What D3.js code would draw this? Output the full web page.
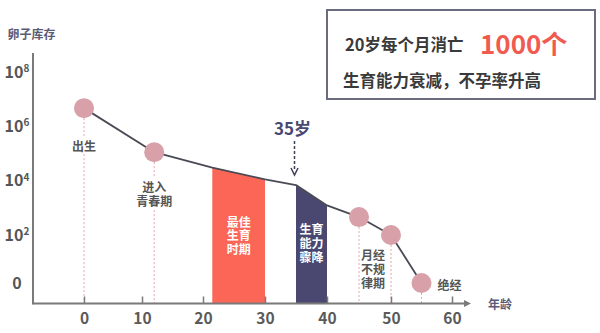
<!DOCTYPE html>
<html><head><meta charset="utf-8">
<script src="https://cdn.jsdelivr.net/npm/d3@7"></script>
<style>
body{margin:0;background:#fff}
svg{display:block}
text{font-family:"Noto Sans CJK SC","Noto Sans",sans-serif;font-weight:700}
</style>
</head><body>
<svg id="c" width="600" height="333"></svg>
<script>
// ---- data ----
const xTicks = [0, 10, 20, 30, 40, 50, 60];
const yTickExps = [8, 6, 4, 2, 0];           // 0 shown as "0"
const curveAges = [0, 12, 21.5, 30, 35, 40, 45, 50, 55];
const curveLogs = [6.67, 5.05, 4.48, 4.05, 3.84, 3.09, 2.66, 2.0, 0];
const milestoneAges = [0, 12, 45, 50, 55];
const barStart = [21.5, 35];
const barEnd = [30, 40];
const barLabels = [["最佳", "生育", "时期"], ["生育", "能力", "骤降"]];
const markerAge = 35;
const markerText = "35岁";
const boxLine1 = "20岁每个月消亡";
const boxHighlight = "1000个";
const boxLine2 = "生育能力衰减，不孕率升高";
const yTitle = "卵子库存";
const xTitle = "年龄";

// ---- layout ----
const svg = d3.select("#c");
const x = d3.scaleLinear().domain(xTicks).range([84, 142, 203, 265, 327, 391, 452]);
const y = d3.scaleLinear().domain([0, 2, 8]).range([283, 235, 72]);
const baseY = 303.5, axisLeft = 33, axisTop = 53, axisRight = 471;
const axisColor = "#7a7a7a";
const pts = curveAges.map((a, i) => [a, curveLogs[i]]);
const valAt = a => curveLogs[curveAges.indexOf(a)];

// multi-line text as one element
function multi(lines, cx, cy0, lh, opts) {
  const t = svg.append("text").attr("text-anchor", opts.anchor || "middle")
    .attr("font-size", opts.size || 12).attr("fill", opts.fill || "#555");
  lines.forEach((s, j) => {
    t.append("tspan").attr("x", cx).attr("y", cy0 + j * lh).attr("dominant-baseline", "central").text(s);
  });
  return t;
}

// clip path: area under curve
const area = d3.area().x(d => x(d[0])).y0(baseY).y1(d => y(d[1]));
svg.append("defs").append("clipPath").attr("id", "under")
  .append("path").attr("d", area(pts));

// bars
const barColors = ["#fb6656", "#4a4870"];
const barG = svg.append("g").attr("clip-path", "url(#under)");
barStart.forEach((s, i) => {
  barG.append("rect").attr("x", x(s)).attr("y", 0)
    .attr("width", x(barEnd[i]) - x(s)).attr("height", baseY)
    .attr("fill", barColors[i]);
});
barLabels.forEach((lines, i) => {
  const cx = (x(barStart[i]) + x(barEnd[i])) / 2;
  const y0 = i === 0 ? 221.5 : 228.5;
  const lh = i === 0 ? 13.3 : 14.2;
  multi(lines, cx, y0, lh, { size: 12, fill: "#fff" });
});

// dotted guide lines
const dotColor = "#e2a6ad";
milestoneAges.forEach(a => {
  svg.append("line").attr("x1", x(a)).attr("x2", x(a))
    .attr("y1", y(valAt(a)) + 10).attr("y2", baseY)
    .attr("stroke", dotColor).attr("stroke-width", 1).attr("stroke-dasharray", "2,2");
});

// axes
const xAxis = d3.axisBottom(x).tickValues(xTicks).tickSize(-7).tickPadding(9);
const gx = svg.append("g").attr("transform", `translate(0,${baseY})`).call(xAxis);
gx.select(".domain").remove();
gx.selectAll(".tick line").attr("stroke", axisColor).attr("stroke-width", 1.5);
gx.selectAll(".tick text").attr("font-size", 15.5).attr("fill", "#5a5a5a")
  .attr("font-family", "'Noto Sans CJK SC','Noto Sans',sans-serif").attr("font-weight", 700);

const yAxis = d3.axisLeft(y).tickValues(yTickExps).tickSize(0);
const gy = svg.append("g").attr("transform", `translate(${axisLeft},0)`).call(yAxis);
gy.select(".domain").remove();
gy.selectAll(".tick text").each(function(d) {
  const t = d3.select(this);
  t.text(null).attr("x", 17 - axisLeft).attr("text-anchor", "middle")
    .attr("font-size", 16).attr("fill", "#555")
    .attr("font-family", "'Noto Sans CJK SC','Noto Sans',sans-serif").attr("font-weight", 700);
  if (d === 0) { t.text("0"); }
  else {
    t.append("tspan").text("10");
    t.append("tspan").attr("font-size", 10).attr("dy", "-0.55em").text(d);
  }
});

svg.append("line").attr("x1", axisLeft).attr("x2", axisLeft).attr("y1", axisTop).attr("y2", baseY + 1)
  .attr("stroke", axisColor).attr("stroke-width", 2);
svg.append("line").attr("x1", axisLeft).attr("x2", axisRight - 4).attr("y1", baseY).attr("y2", baseY)
  .attr("stroke", axisColor).attr("stroke-width", 2);
svg.append("path").attr("d", `M${axisRight},${baseY} l-7,-3.5 l0,7 z`).attr("fill", axisColor);

// axis titles
svg.append("text").attr("x", 31.5).attr("y", 33).attr("text-anchor", "middle")
  .attr("dominant-baseline", "central").attr("font-size", 12).attr("fill", "#5b5b78").text(yTitle);
svg.append("text").attr("x", 500).attr("y", baseY).attr("text-anchor", "middle")
  .attr("dominant-baseline", "central").attr("font-size", 12).attr("fill", "#5b5b78").text(xTitle);

// curve line
const line = d3.line().x(d => x(d[0])).y(d => y(d[1]));
svg.append("path").attr("d", line(pts)).attr("fill", "none")
  .attr("stroke", "#4a4a55").attr("stroke-width", 1.8).attr("stroke-linejoin", "round");

// milestone circles
svg.selectAll("circle.m").data(milestoneAges).join("circle").attr("class", "m")
  .attr("cx", a => x(a)).attr("cy", a => y(valAt(a))).attr("r", 10).attr("fill", "#d8a0a8");

// milestone labels (white backing breaks dotted lines)
function backed(t) {
  const b = t.node().getBBox();
  svg.insert("rect", () => t.node()).attr("x", b.x - 1).attr("y", b.y)
    .attr("width", b.width + 2).attr("height", b.height).attr("fill", "#fff");
}
backed(multi(["出生"], x(0), y(valAt(0)) + 37, 14, {}));
backed(multi(["进入", "青春期"], x(12), y(valAt(12)) + 34, 14, {}));
const midX = (x(45) + x(50)) / 2 - 2;
multi(["月经", "不规", "律期"], midX, 254.5, 14, {});
multi(["绝经"], x(55) + 16, y(valAt(55)) + 1, 14, { anchor: "start" });

// 35 marker
const mx = x(markerAge) - 1.5;
svg.append("text").attr("x", mx - 2).attr("y", 127).attr("text-anchor", "middle")
  .attr("dominant-baseline", "central").attr("font-size", 17).attr("fill", "#4a4870").text(markerText);
svg.append("line").attr("x1", mx).attr("x2", mx).attr("y1", 141).attr("y2", 169)
  .attr("stroke", "#3f3f55").attr("stroke-width", 1.5).attr("stroke-dasharray", "3,2");
svg.append("path").attr("d", `M${mx - 3.5},${168} L${mx},${175} L${mx + 3.5},${168}`)
  .attr("fill", "none").attr("stroke", "#3f3f55").attr("stroke-width", 1.5);

// info box
svg.append("rect").attr("x", 327).attr("y", 10).attr("width", 268).attr("height", 89)
  .attr("fill", "#fff").attr("stroke", "#6b6b80").attr("stroke-width", 2);
svg.append("text").attr("x", 345).attr("y", 44).attr("dominant-baseline", "central")
  .attr("font-size", 16.5).attr("fill", "#3a3a3a").text(boxLine1);
svg.append("text").attr("x", 480).attr("y", 42).attr("dominant-baseline", "central")
  .attr("font-size", 26).attr("fill", "#f15b4f").text(boxHighlight);
svg.append("text").attr("x", 343).attr("y", 80).attr("dominant-baseline", "central")
  .attr("font-size", 16.5).attr("fill", "#3a3a3a").text(boxLine2);
</script>
</body></html>
